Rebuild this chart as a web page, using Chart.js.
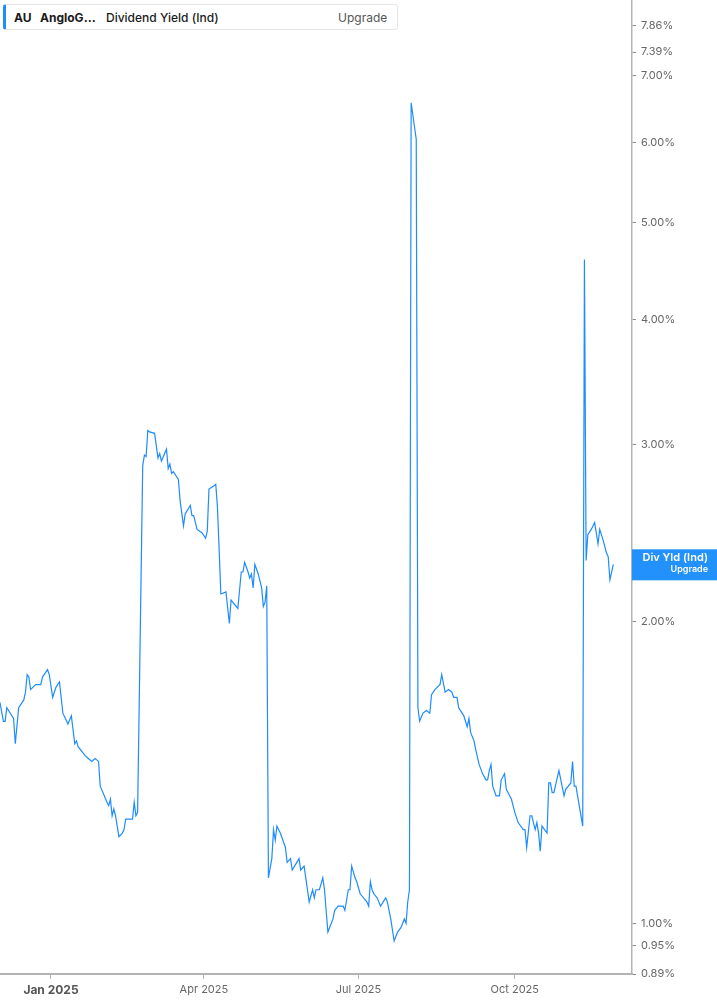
<!DOCTYPE html>
<html>
<head>
    <title>AU Dividend Yield (Ind)</title>
    <script src="https://cdn.jsdelivr.net/npm/chart.js@4.4.1/dist/chart.umd.min.js"></script>
    <style>
        html, body {
            margin: 0;
            padding: 0;
            background-color: #ffffff;
            font-family: 'Inter', 'Noto Sans', sans-serif;
        }
        .wrap {
            position: relative;
            width: 717px;
            height: 1005px;
        }
        .legend {
            position: absolute;
            left: 3px;
            top: 4px;
            width: 395px;
            height: 26px;
            background: #ffffff;
            border: 1px solid #e6e6e6;
            border-left: 3px solid #1e8cff;
            border-radius: 3px;
            box-sizing: border-box;
            font-size: 12px;
            color: #1a1a1a;
        }
        .legend span {
            position: absolute;
            top: 5px;
            white-space: nowrap;
        }
        .legend .tk { left: 8px; font-weight: 700; }
        .legend .nm { left: 34px; font-weight: 700; }
        .legend .fd { left: 100px; font-weight: 500; }
        .legend .up { left: 332px; color: #555555; }
    </style>
</head>
<body>
    <div class="wrap">
        <canvas id="yieldChart"></canvas>
        <div class="legend">
            <span class="tk">AU</span>
            <span class="nm">AngloG…</span>
            <span class="fd">Dividend Yield (Ind)</span>
            <span class="up">Upgrade</span>
        </div>
    </div>

    <script>
        // days counted from 1 Jan 2025, dividend yield in %
        const days = [
            -30, -28, -27, -26, -22, -21, -19, -16, -15, -14,
            -13, -12, -9, -6, -5, -2, -1, 1, 3, 5,
            7, 10, 12, 14, 15, 16, 20, 22, 24, 26,
            28, 29, 33, 34, 35, 36, 37, 38, 40, 42,
            43, 44, 48, 49, 50, 51, 54, 55, 56, 57,
            58, 61, 63, 64, 65, 68, 69, 70, 71, 72,
            75, 76, 78, 79, 82, 83, 84, 86, 89, 91,
            92, 93, 96, 97, 98, 100, 103, 105, 106, 110,
            112, 113, 114, 116, 117, 118, 119, 120, 122, 124,
            125, 126, 127, 128, 130, 131, 132, 133, 135, 138,
            139, 141, 142, 146, 147, 149, 152, 154, 155, 156,
            158, 160, 161, 163, 166, 167, 169, 172, 173, 175,
            176, 177, 179, 180, 182, 186, 187, 188, 189, 190,
            192, 194, 197, 198, 200, 202, 204, 206, 208, 209,
            210, 211, 212, 215, 216, 217, 219, 221, 223, 224,
            226, 229, 230, 232, 234, 236, 237, 239, 240, 243,
            244, 245, 246, 247, 249, 250, 252, 254, 256, 257,
            258, 259, 260, 262, 264, 265, 267, 268, 270, 271,
            273, 275, 278, 279, 280, 282, 283, 285, 286, 287,
            288, 289, 292, 293, 294, 295, 296, 299, 302, 303,
            306, 307, 308, 309, 313, 314, 315, 316, 318, 320,
            322, 323, 325, 327, 328, 329, 331
        ];
        const yields = [
            1.66, 1.59, 1.59, 1.64, 1.60, 1.51, 1.64, 1.67, 1.70, 1.77,
            1.76, 1.71, 1.73, 1.73, 1.76, 1.79, 1.77, 1.68, 1.72, 1.74,
            1.62, 1.58, 1.61, 1.51, 1.52, 1.50, 1.47, 1.46, 1.45, 1.46,
            1.45, 1.37, 1.32, 1.31, 1.33, 1.28, 1.30, 1.28, 1.22, 1.23,
            1.24, 1.27, 1.27, 1.32, 1.28, 1.29, 2.86, 2.93, 2.92, 3.10,
            3.09, 3.08, 2.91, 2.94, 2.89, 2.97, 2.84, 2.87, 2.81, 2.82,
            2.77, 2.64, 2.49, 2.56, 2.61, 2.55, 2.55, 2.47, 2.45, 2.42,
            2.46, 2.71, 2.73, 2.74, 2.60, 2.13, 2.14, 1.99, 2.10, 2.06,
            2.24, 2.24, 2.29, 2.24, 2.21, 2.23, 2.16, 2.28, 2.23, 2.16,
            2.07, 2.09, 2.17, 1.11, 1.16, 1.24, 1.21, 1.25, 1.23, 1.19,
            1.15, 1.16, 1.13, 1.16, 1.13, 1.14, 1.05, 1.08, 1.06, 1.08,
            1.08, 1.11, 1.08, 0.98, 1.01, 1.03, 1.04, 1.04, 1.03, 1.08,
            1.08, 1.14, 1.11, 1.10, 1.07, 1.05, 1.04, 1.10, 1.08, 1.07,
            1.06, 1.04, 1.06, 1.05, 1.01, 0.96, 0.98, 0.99, 1.01, 1.00,
            1.05, 1.08, 6.58, 6.05, 1.64, 1.59, 1.62, 1.63, 1.62, 1.69,
            1.71, 1.73, 1.77, 1.70, 1.71, 1.70, 1.68, 1.68, 1.64, 1.61,
            1.59, 1.57, 1.60, 1.55, 1.52, 1.49, 1.44, 1.41, 1.39, 1.39,
            1.42, 1.44, 1.37, 1.34, 1.34, 1.39, 1.41, 1.36, 1.34, 1.33,
            1.29, 1.26, 1.24, 1.24, 1.19, 1.28, 1.28, 1.24, 1.26, 1.23,
            1.18, 1.25, 1.23, 1.38, 1.38, 1.35, 1.35, 1.42, 1.34, 1.36,
            1.38, 1.45, 1.37, 1.37, 1.25, 4.59, 2.30, 2.44, 2.47, 2.51,
            2.39, 2.47, 2.41, 2.34, 2.32, 2.20, 2.28
        ];

        const xTickDays = [0, 90, 181, 273];
        const xTickLabels = ['Jan 2025', 'Apr 2025', 'Jul 2025', 'Oct 2025'];
        const yTickValues = [0.89, 0.95, 1.00, 2.00, 3.00, 4.00, 5.00, 6.00, 7.00, 7.39, 7.86];

        const lineColor = '#1e8cff';
        const axisColor = '#b3b3b3';

        // blue tag with the series name at the last value
        const lastValueTag = {
            id: 'lastValueTag',
            afterDraw(chart) {
                const c = chart.ctx;
                const area = chart.chartArea;
                const y = chart.scales.y.getPixelForValue(yields[yields.length - 1]);
                c.save();
                c.fillStyle = '#2391fb';
                c.fillRect(area.right, y - 15, chart.width - area.right, 31);
                c.fillStyle = '#ffffff';
                c.textAlign = 'right';
                c.textBaseline = 'middle';
                c.font = "600 11px Inter, 'Noto Sans', sans-serif";
                c.fillText('Div Yld (Ind)', 708, y - 7);
                c.font = "600 9px Inter, 'Noto Sans', sans-serif";
                c.fillText('Upgrade', 708, y + 5);
                c.restore();
            }
        };

        const ctx = document.getElementById('yieldChart').getContext('2d');
        new Chart(ctx, {
            type: 'line',
            data: {
                datasets: [{
                    data: days.map((d, i) => ({ x: d, y: yields[i] })),
                    borderColor: lineColor,
                    borderWidth: 1.2,
                    pointRadius: 0,
                    tension: 0,
                    fill: false
                }]
            },
            options: {
                responsive: true,
                maintainAspectRatio: false,
                animation: false,
                layout: { padding: 0 },
                plugins: {
                    legend: { display: false },
                    tooltip: { enabled: false }
                },
                scales: {
                    x: {
                        type: 'linear',
                        min: -30,
                        max: 342,
                        afterBuildTicks: axis => {
                            axis.ticks = xTickDays.map(v => ({ value: v }));
                        },
                        afterFit: scale => {
                            scale.height = 31;
                            scale.paddingLeft = 0;
                            scale.paddingRight = 0;
                        },
                        grid: {
                            drawOnChartArea: false,
                            drawTicks: true,
                            tickLength: 5,
                            tickColor: axisColor
                        },
                        border: { color: axisColor, width: 2 },
                        ticks: {
                            padding: 4,
                            maxRotation: 0,
                            autoSkip: false,
                            color: ctx => ctx.tick && ctx.tick.value === 0 ? '#555555' : '#666666',
                            font: ctx => ctx.tick && ctx.tick.value === 0
                                ? { family: "Inter, 'Noto Sans', sans-serif", size: 12, weight: '700' }
                                : { family: "Inter, 'Noto Sans', sans-serif", size: 11 },
                            callback: value => xTickLabels[xTickDays.indexOf(value)]
                        }
                    },
                    y: {
                        type: 'logarithmic',
                        position: 'right',
                        min: 0.89,
                        max: 8.33,
                        afterBuildTicks: axis => {
                            axis.ticks = yTickValues.map(v => ({ value: v }));
                        },
                        afterFit: scale => {
                            scale.width = 85;
                            scale.paddingTop = 0;
                            scale.paddingBottom = 0;
                        },
                        grid: {
                            drawOnChartArea: false,
                            drawTicks: true,
                            tickLength: 4,
                            tickColor: '#8a8a8a'
                        },
                        border: { color: axisColor, width: 1.5 },
                        ticks: {
                            padding: 5,
                            autoSkip: false,
                            color: '#666666',
                            font: { family: "Inter, 'Noto Sans', sans-serif", size: 11 },
                            callback: value => Number(value).toFixed(2) + '%'
                        }
                    }
                }
            },
            plugins: [lastValueTag]
        });
    </script>
</body>
</html>
